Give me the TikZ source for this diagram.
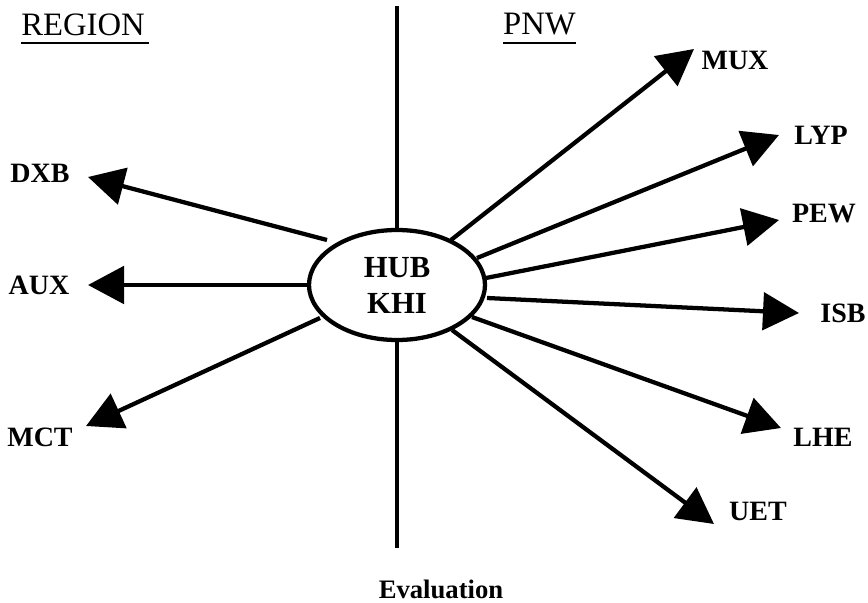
\documentclass[tikz,border=0pt]{standalone}
\usepackage{fontspec}
\setmainfont{Liberation Serif}
\usetikzlibrary{arrows.meta,shapes.geometric}
\begin{document}
\begin{tikzpicture}[x=0.75pt,y=-0.75pt,
  arr/.style={line width=3.2pt,-{Triangle[length=27pt,width=28pt]}},
  axisline/.style={line width=3.2pt},
  lbl/.style={font=\fontsize{21}{25}\selectfont\bfseries,inner sep=0pt},
  headtxt/.style={font=\fontsize{24.5}{29}\selectfont,inner sep=0pt},
  uline/.style={line width=1.6pt},
  hubnode/.style={draw,fill=white,ellipse,line width=3.2pt,minimum width=132pt,minimum height=82.5pt,
    inner sep=0pt,align=center,font=\fontsize{23}{27}\selectfont\bfseries}]
\useasboundingbox (0,0) rectangle (868,603);
% vertical axis
\coordinate (vtop) at (397,6);
\coordinate (vbot) at (397,548);
\draw[axisline] (vtop) -- (vbot);
% hub
\node[hubnode] (hub) at (397,285) {HUB\\KHI};
% headings
\node[headtxt] (region) at (83,24.5) {REGION};
\node[headtxt] (pnw) at (539.5,24.5) {PNW};
\draw[uline] ([yshift=-5.3pt]region.south west) -- ([xshift=3pt,yshift=-5.3pt]region.south east);
\draw[uline] ([yshift=-5.3pt]pnw.south west) -- ([yshift=-5.3pt]pnw.south east);
% labels
\node[lbl] (dxb) at (40,173.5) {DXB};
\node[lbl] (aux) at (39,285) {AUX};
\node[lbl] (mct) at (40,437) {MCT};
\node[lbl] (mux) at (735,60) {MUX};
\node[lbl] (lyp) at (821,135) {LYP};
\node[lbl] (pew) at (824,214) {PEW};
\node[lbl] (isb) at (843,313) {ISB};
\node[lbl] (lhe) at (823,437) {LHE};
\node[lbl] (uet) at (758,511) {UET};
\node[font=\fontsize{20}{24}\selectfont\bfseries,inner sep=0pt] (eval) at (441,589) {Evaluation};
% arrow start points
\coordinate (sDXB) at (327,240);
\coordinate (sAUX) at (307,285);
\coordinate (sMCT) at (320,318);
\coordinate (sMUX) at (451,240);
\coordinate (sLYP) at (477,258);
\coordinate (sPEW) at (486,278);
\coordinate (sISB) at (487,298);
\coordinate (sLHE) at (472,317);
\coordinate (sUET) at (452,330);
% arrow tips
\coordinate (tDXB) at (88,177);
\coordinate (tAUX) at (88,285);
\coordinate (tMCT) at (86,426);
\coordinate (tMUX) at (694,49);
\coordinate (tLYP) at (779,135);
\coordinate (tPEW) at (779,220);
\coordinate (tISB) at (799,313);
\coordinate (tLHE) at (781,428);
\coordinate (tUET) at (714,524);
% arrows
\draw[arr] (sDXB) -- (tDXB);
\draw[arr] (sAUX) -- (tAUX);
\draw[arr] (sMCT) -- (tMCT);
\draw[arr] (sMUX) -- (tMUX);
\draw[arr] (sLYP) -- (tLYP);
\draw[arr] (sPEW) -- (tPEW);
\draw[arr] (sISB) -- (tISB);
\draw[arr] (sLHE) -- (tLHE);
\draw[arr] (sUET) -- (tUET);
\end{tikzpicture}
\end{document}
